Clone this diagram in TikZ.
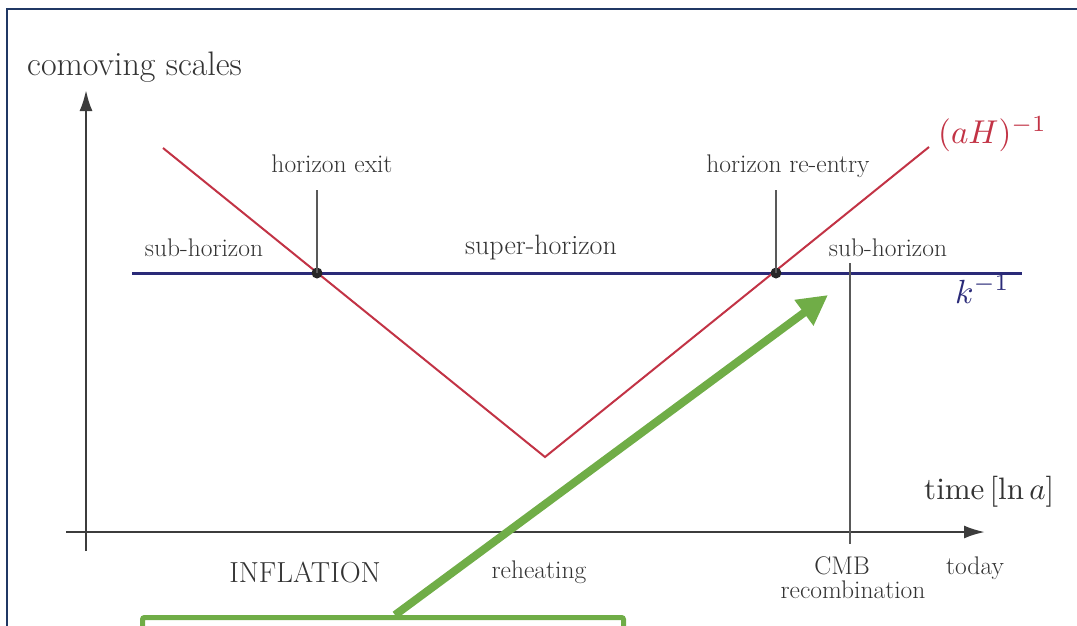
\documentclass[tikz,border=0pt]{standalone}
\usepackage{graphicx}
\usetikzlibrary{arrows.meta}
\definecolor{framec}{HTML}{203864}
\definecolor{redc}{HTML}{C23345}
\definecolor{bluec}{HTML}{2A2A78}
\definecolor{txt}{HTML}{333333}
\definecolor{greenc}{HTML}{70AD47}
\definecolor{axisc}{HTML}{3C3C3C}
\begin{document}
\begin{tikzpicture}[x=1pt,y=-1pt,
  lbl/.style={font=\fontsize{25.5}{30}\selectfont, text=txt, inner sep=0pt, anchor=base},
  biglbl/.style={lbl, font=\fontsize{28}{33}\selectfont},
  mathlbl/.style={text=txt, inner sep=0pt, anchor=base west, font=\fontsize{10}{12}\selectfont},
  axisline/.style={draw=axisc, line width=2.4pt, -{Latex[length=21pt,width=13pt]}},
  tickline/.style={draw=black!65, line width=1.2pt},
  redline/.style={draw=redc, line width=2pt, line join=miter},
  blueline/.style={draw=bluec, line width=3pt},
  dotnode/.style={circle, fill=black!85, inner sep=0pt, minimum size=11pt},
  greenarrow/.style={draw=greenc, line width=8pt, -{Triangle[length=30pt,width=30pt]}},
  greenbox/.style={draw=greenc, line width=5pt, rounded corners=2pt}
]
\useasboundingbox (0,0) rectangle (1077,625);
% frame
\draw[framec, line width=2.5pt] (1100,9) -- (7,9) -- (7,660);
% axes
\coordinate (yb) at (86,551);
\coordinate (yt) at (86,90);
\coordinate (xl) at (66,532);
\coordinate (xr) at (985,532);
\draw[axisline] (yb) -- (yt);
\draw[axisline] (xl) -- (xr);
% k^-1 line
\coordinate (bl) at (132,273);
\coordinate (br) at (1022,273);
\draw[blueline] (bl) -- (br);
% (aH)^-1 curve
\coordinate (r1) at (163,148);
\coordinate (r2) at (545,457);
\coordinate (r3) at (929,147);
\draw[redline] (r1) -- (r2) -- (r3);
% crossing points
\node[dotnode] (exitdot) at (317,273) {};
\node[dotnode] (reentrydot) at (776,273) {};
\coordinate (exittop) at (317,190);
\coordinate (reentrytop) at (776,190);
\draw[tickline] (exittop) -- (exitdot.center);
\draw[tickline] (reentrytop) -- (reentrydot.center);
% CMB line
\coordinate (cmbtop) at (850,263);
\coordinate (cmbbot) at (850,544);
\draw[tickline] (cmbtop) -- (cmbbot);
% labels
\node[lbl, anchor=base west, font=\fontsize{34}{40}\selectfont] (comov) at (27,75) {comoving scales};
\node[lbl] (hexit) at (332,172) {horizon exit};
\node[lbl] (hreentry) at (788,172) {horizon re-entry};
\node[lbl] (subl) at (204,256) {sub-horizon};
\node[biglbl] (super) at (541,254) {super-horizon};
\node[lbl] (subr) at (888,256) {sub-horizon};
\node[mathlbl, text=redc] (aH) at (938,143) {\scalebox{3.3}{$(aH)^{-1}$}};
\node[mathlbl, text=bluec] (kinv) at (955,303) {\scalebox{3.35}{$k^{-1}$}};
\node[mathlbl] (time) at (924,499) {\scalebox{3.1}{time$\,[\ln a]$}};
\node[lbl, font=\fontsize{29}{34}\selectfont] (infl) at (305,582) {INFLATION};
\node[lbl] (reheat) at (539,578) {reheating};
\node[lbl] (cmb) at (842,574) {CMB};
\node[lbl] (recomb) at (853,598) {recombination};
\node[lbl] (today) at (975,574) {today};
% green annotation
\node[greenbox, minimum width=481pt, minimum height=40pt, anchor=north west] (gbox) at (140,615) {};
\coordinate (gstart) at (395,615);
\coordinate (gend) at (828,295);
\draw[greenarrow] (gstart) -- (gend);
\end{tikzpicture}
\end{document}
